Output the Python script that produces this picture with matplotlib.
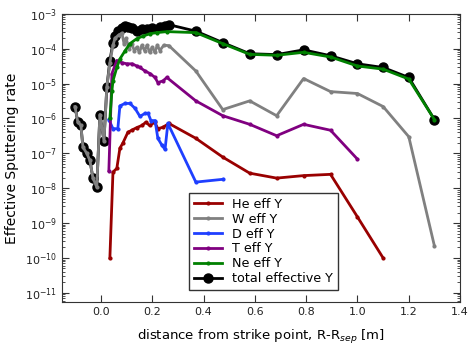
import numpy as np
import matplotlib
matplotlib.use("Agg")
import matplotlib.pyplot as plt

# data
he_x = [0.035, 0.047, 0.062, 0.074, 0.086, 0.105, 0.12, 0.14, 0.16, 0.175, 0.19, 0.21, 0.222, 0.242, 0.265,
        0.37, 0.475, 0.58, 0.685, 0.79, 0.895, 1.0, 1.1]
he_y = [1.0e-10, 2.9e-8, 3.7e-8, 1.4e-7, 2.0e-7, 4.0e-7, 4.6e-7, 5.5e-7, 6.3e-7, 7.8e-7, 6.3e-7, 7.8e-7, 5.1e-7, 5.6e-7, 7.2e-7,
        2.7e-7, 7.8e-8, 2.7e-8, 1.95e-8, 2.3e-8, 2.5e-8, 1.5e-9, 1.0e-10]

w_x = [-0.101, -0.09, -0.078, -0.07, -0.055, -0.043, -0.031, -0.016, -0.004, 0.012, 0.023, 0.035, 0.047, 0.055,
       0.07, 0.082, 0.09, 0.098, 0.11, 0.12, 0.13, 0.14, 0.15, 0.16, 0.17, 0.18, 0.19, 0.2, 0.21, 0.22, 0.23, 0.245, 0.265,
       0.37, 0.475, 0.58, 0.685, 0.79, 0.895, 1.0, 1.1, 1.2, 1.3]
w_y = [2.2e-6, 7.8e-7, 6.3e-7, 1.5e-7, 1.0e-7, 6.3e-8, 1.95e-8, 1.07e-8, 1.3e-6, 2.3e-7, 7.8e-6, 4.0e-5, 1.26e-4, 2.0e-4,
       2.5e-4, 2.8e-4, 1.4e-4, 2.0e-4, 1.0e-4, 1.4e-4, 8.9e-5, 1.1e-4, 7.9e-5, 1.26e-4, 8.9e-5, 1.26e-4, 7.9e-5, 1.1e-4, 7.9e-5, 1.26e-4, 8.9e-5, 1.26e-4, 1.23e-4,
       2.3e-5, 1.8e-6, 3.2e-6, 1.2e-6, 1.4e-5, 5.9e-6, 5.2e-6, 2.2e-6, 3.0e-7, 2.2e-10]

d_x = [0.031, 0.047, 0.066, 0.074, 0.094, 0.113, 0.133, 0.152, 0.172, 0.184, 0.195, 0.211, 0.222, 0.238, 0.25, 0.261,
       0.37, 0.475]
d_y = [9.3e-7, 5.1e-7, 5.1e-7, 2.3e-6, 2.7e-6, 2.7e-6, 1.95e-6, 1.15e-6, 1.4e-6, 1.4e-6, 8.7e-7, 8.7e-7, 2.7e-7, 1.7e-7, 1.3e-7, 7.2e-7,
       1.5e-8, 1.8e-8]

t_x = [0.031, 0.043, 0.062, 0.082, 0.101, 0.121, 0.14, 0.152, 0.172, 0.191, 0.211, 0.222, 0.242, 0.257,
       0.37, 0.475, 0.58, 0.685, 0.79, 0.895, 1.0]
t_y = [3.2e-8, 1.95e-5, 4.6e-5, 4.0e-5, 3.7e-5, 3.7e-5, 3.2e-5, 2.9e-5, 2.3e-5, 1.95e-5, 1.5e-5, 1.07e-5, 1.2e-5, 1.5e-5,
       3.2e-6, 1.2e-6, 6.8e-7, 3.2e-7, 6.8e-7, 4.6e-7, 6.8e-8]

ne_x = [0.035, 0.043, 0.047, 0.062, 0.074, 0.094, 0.113, 0.14, 0.164, 0.191, 0.218, 0.257,
        0.37, 0.475, 0.58, 0.685, 0.79, 0.895, 1.0, 1.1, 1.2, 1.3]
ne_y = [1.0e-6, 6.3e-6, 1.2e-5, 2.9e-5, 5.1e-5, 8.7e-5, 1.4e-4, 1.95e-4, 2.3e-4, 2.7e-4, 2.9e-4, 3.1e-4,
        2.9e-4, 1.4e-4, 6.9e-5, 6.5e-5, 7.9e-5, 5.8e-5, 3.2e-5, 2.6e-5, 1.35e-5, 9.3e-7]

tot_x = [-0.101, -0.09, -0.078, -0.07, -0.055, -0.043, -0.031, -0.016, -0.004, 0.012, 0.023, 0.035, 0.047, 0.055,
         0.066, 0.082, 0.094, 0.105, 0.12, 0.14, 0.16, 0.18, 0.2, 0.23, 0.25, 0.265,
         0.37, 0.475, 0.58, 0.685, 0.79, 0.895, 1.0, 1.1, 1.2, 1.3]
tot_y = [2.2e-6, 7.8e-7, 6.3e-7, 1.5e-7, 1.0e-7, 6.3e-8, 1.95e-8, 1.07e-8, 1.3e-6, 2.3e-7, 7.8e-6, 4.6e-5, 1.5e-4, 2.3e-4,
         3.2e-4, 4.0e-4, 4.6e-4, 4.3e-4, 4.0e-4, 3.2e-4, 3.7e-4, 3.7e-4, 4.0e-4, 4.3e-4, 4.6e-4, 4.9e-4,
         3.2e-4, 1.5e-4, 7.2e-5, 6.8e-5, 9.3e-5, 6.3e-5, 3.7e-5, 2.9e-5, 1.5e-5, 9.3e-7]

fig = plt.figure(figsize=(4.69, 3.47), dpi=100)
ax = fig.add_axes([0.132, 0.130, 0.849, 0.830])

# total goes underneath the others, but last in the legend
ax.plot(tot_x, tot_y, '-o', color='black', lw=2, ms=6.5, label='total effective Y', zorder=1)
ax.plot(he_x, he_y, '.-', color='#990000', lw=2, ms=4, label='He eff Y', zorder=2)
ax.plot(w_x, w_y, '.-', color='grey', lw=2, ms=4, label='W eff Y', zorder=2)
ax.plot(d_x, d_y, '.-', color='#1f3fff', lw=2, ms=4, label='D eff Y', zorder=2)
ax.plot(t_x, t_y, '.-', color='purple', lw=2, ms=4, label='T eff Y', zorder=2)
ax.plot(ne_x, ne_y, '.-', color='green', lw=2, ms=4, label='Ne eff Y', zorder=2)

ax.set_yscale('log')
ax.set_xlim(-0.152, 1.4)
ax.set_ylim(10**-11.26, 1e-3)
ax.set_yticks([10.0**k for k in range(-11, -2)])
ax.set_xticks([0.0, 0.2, 0.4, 0.6, 0.8, 1.0, 1.2, 1.4])
ax.set_xticklabels(['0.0', '0.2', '0.4', '0.6', '0.8', '1.0', '1.2', '1.4'])
ax.tick_params(which='both', direction='in', top=True, right=True, labelsize=8, colors='#333333', labelcolor='#222222')
ax.tick_params(which='major', length=5)
ax.tick_params(which='minor', length=2.5)
for s in ax.spines.values():
    s.set_color('#333333')

ax.set_ylabel('Effective Sputtering rate', fontsize=10)
ax.set_xlabel('distance from strike point, R-R$_{sep}$ [m]', fontsize=9.5, labelpad=8)

h, l = ax.get_legend_handles_labels()
order = [1, 2, 3, 4, 5, 0]
leg = ax.legend([h[i] for i in order], [l[i] for i in order], loc='lower left',
                bbox_to_anchor=(0.318, 0.04), fontsize=9.2, fancybox=False,
                edgecolor='#333333', framealpha=1, borderaxespad=0,
                handlelength=2.2, labelspacing=0.15, borderpad=0.4)

fig.savefig('out.png', dpi=100)
